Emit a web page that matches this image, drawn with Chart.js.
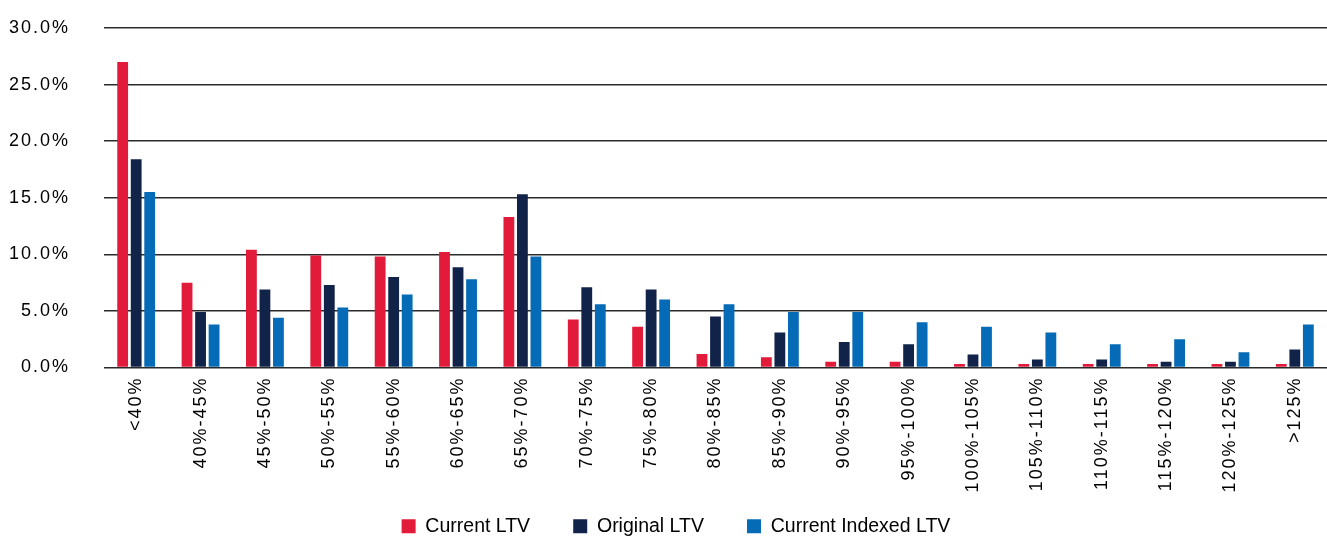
<!DOCTYPE html>
<html>
<head>
<meta charset="utf-8">
<script src="https://cdn.jsdelivr.net/npm/chart.js@4.4.1/dist/chart.umd.min.js"></script>
<style>
  html, body { margin: 0; padding: 0; background: #fff; overflow: hidden; }
  #wrap { width: 1327px; height: 546px; position: relative; }
</style>
</head>
<body>
<div id="wrap"><canvas id="chart"></canvas></div>
<script>
const FONT = '"Liberation Sans", Arial, Helvetica, sans-serif';

const categories = ['<40%', '40%-45%', '45%-50%', '50%-55%', '55%-60%', '60%-65%', '65%-70%',
  '70%-75%', '75%-80%', '80%-85%', '85%-90%', '90%-95%', '95%-100%', '100%-105%',
  '105%-110%', '110%-115%', '115%-120%', '120%-125%', '>125%'];

const currentLtv = [27.0, 7.5, 10.4, 9.9, 9.8, 10.2, 13.3, 4.25, 3.6, 1.2, 0.9, 0.5, 0.5, 0.3, 0.3, 0.3, 0.3, 0.3, 0.3];
const originalLtv = [18.4, 4.9, 6.9, 7.3, 8.0, 8.85, 15.3, 7.1, 6.9, 4.5, 3.1, 2.25, 2.05, 1.15, 0.7, 0.7, 0.5, 0.5, 1.6];
const indexedLtv = [15.5, 3.8, 4.4, 5.3, 6.45, 7.8, 9.8, 5.6, 6.0, 5.6, 4.9, 4.9, 4.0, 3.6, 3.1, 2.05, 2.5, 1.35, 3.8];

const yTicks = [0, 5, 10, 15, 20, 25, 30];

const LEGEND_SHIFT = 26;

// axis labels in the original are slightly tracked out, the legend is not,
// and the legend sits a little right of centre
const spacingPlugin = {
  id: 'spacing',
  beforeDraw(chart) {
    const legend = chart.legend;
    if (legend && !legend._patched) {
      const orig = legend.draw.bind(legend);
      legend.draw = function (area) {
        const ctx = chart.ctx;
        const ls = ctx.letterSpacing;
        ctx.save();
        ctx.letterSpacing = '0px';
        ctx.translate(LEGEND_SHIFT, 0);
        orig(area);
        ctx.restore();
        ctx.letterSpacing = ls;
      };
      legend._patched = true;
    }
    chart.ctx.letterSpacing = '2px';
  },
  afterDraw(chart) {
    chart.ctx.letterSpacing = '0px';
  }
};

function makeDataset(label, data, color) {
  return {
    label: label,
    data: data,
    backgroundColor: color,
    borderWidth: 0,
    categoryPercentage: 0.63,
    barPercentage: 0.8
  };
}

const chart = new Chart(document.getElementById('chart'), {
  type: 'bar',
  data: {
    labels: categories,
    datasets: [
      makeDataset('Current LTV', currentLtv, '#E21B3A'),
      makeDataset('Original LTV', originalLtv, '#12234A'),
      makeDataset('Current Indexed LTV', indexedLtv, '#056BB6')
    ]
  },
  options: {
    responsive: true,
    maintainAspectRatio: false,
    animation: false,
    layout: { padding: { top: 28, right: 0, bottom: 0, left: 0 } },
    plugins: {
      legend: {
        position: 'bottom',
        labels: {
          boxWidth: 14,
          boxHeight: 14,
          padding: 16,
          color: '#000',
          font: { family: FONT, size: 19.5 },
          // trailing blanks widen the gap between items without a taller legend
          generateLabels(chart) {
            const items = Chart.defaults.plugins.legend.labels.generateLabels(chart);
            items.forEach(item => { item.text = item.text + '     '; });
            return items;
          }
        }
      },
      tooltip: { enabled: false }
    },
    scales: {
      x: {
        grid: { display: false, drawTicks: false },
        border: { display: false },
        ticks: {
          minRotation: 90,
          maxRotation: 90,
          autoSkip: false,
          padding: 9,
          color: '#000',
          font: { family: FONT, size: 18 }
        },
        afterFit(scale) { scale.height = 133; }
      },
      y: {
        min: 0,
        max: 30,
        afterBuildTicks(scale) {
          scale.ticks = yTicks.map(v => ({ value: v }));
        },
        grid: {
          color: '#2a2a2a',
          lineWidth: 1.4,
          drawTicks: true,
          tickLength: 30,
          tickColor: 'rgba(0,0,0,0)'
        },
        border: { display: false },
        ticks: {
          padding: 4,
          color: '#000',
          font: { family: FONT, size: 18 },
          callback: v => v.toFixed(1) + '%'
        },
        afterFit(scale) { scale.width = 104; }
      }
    }
  },
  plugins: [spacingPlugin]
});
</script>
</body>
</html>
